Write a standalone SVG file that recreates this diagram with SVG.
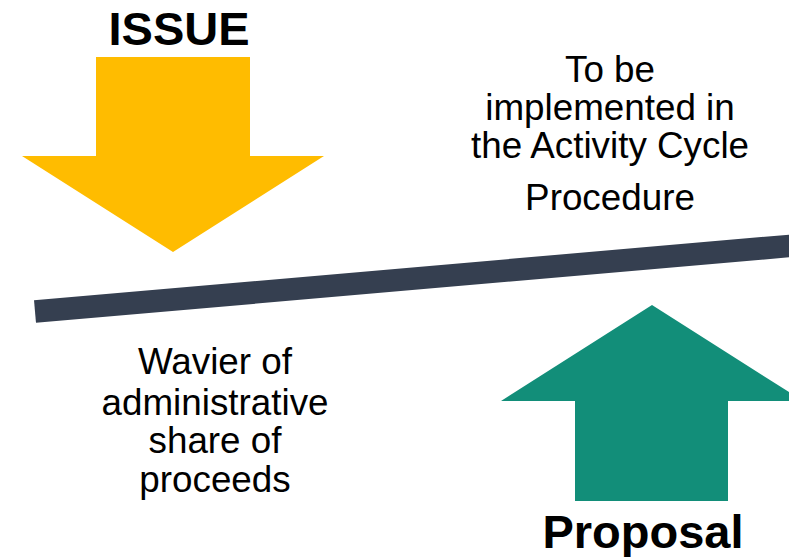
<svg xmlns="http://www.w3.org/2000/svg" width="789" height="557" viewBox="0 0 789 557">
<style>
.t{font-family:"Liberation Sans",Arial,sans-serif;font-size:36.8px;fill:#000;text-anchor:middle}
.b{font-family:"Liberation Sans",Arial,sans-serif;font-size:47px;font-weight:bold;fill:#000;text-anchor:middle}
</style>
<rect width="789" height="557" fill="#fff"/>
<g id="connectors">
<line x1="35" y1="311.5" x2="805" y2="244.6" stroke="#353f50" stroke-width="22.6"/>
</g>
<g id="issue">
<polygon points="96,57 250,57 250,156 324,156 173,252 22,156 96,156" fill="#FFBC00"/>
<text class="b" x="179" y="45">ISSUE</text>
</g>
<g id="proposal">
<polygon points="652,305 803,401 728,401 728,501 575,501 575,401 501,401" fill="#128E79"/>
<text class="b" x="643" y="548">Proposal</text>
</g>
<g id="procedure">
<text class="t" x="610" y="81.7">To be</text>
<text class="t" x="610" y="120">implemented in</text>
<text class="t" x="610" y="158.3">the Activity Cycle</text>
<text class="t" x="610" y="210">Procedure</text>
</g>
<g id="waiver">
<text class="t" x="215" y="374.3">Wavier of</text>
<text class="t" x="215" y="415">administrative</text>
<text class="t" x="215" y="453.3">share of</text>
<text class="t" x="215" y="491.7">proceeds</text>
</g>
</svg>
